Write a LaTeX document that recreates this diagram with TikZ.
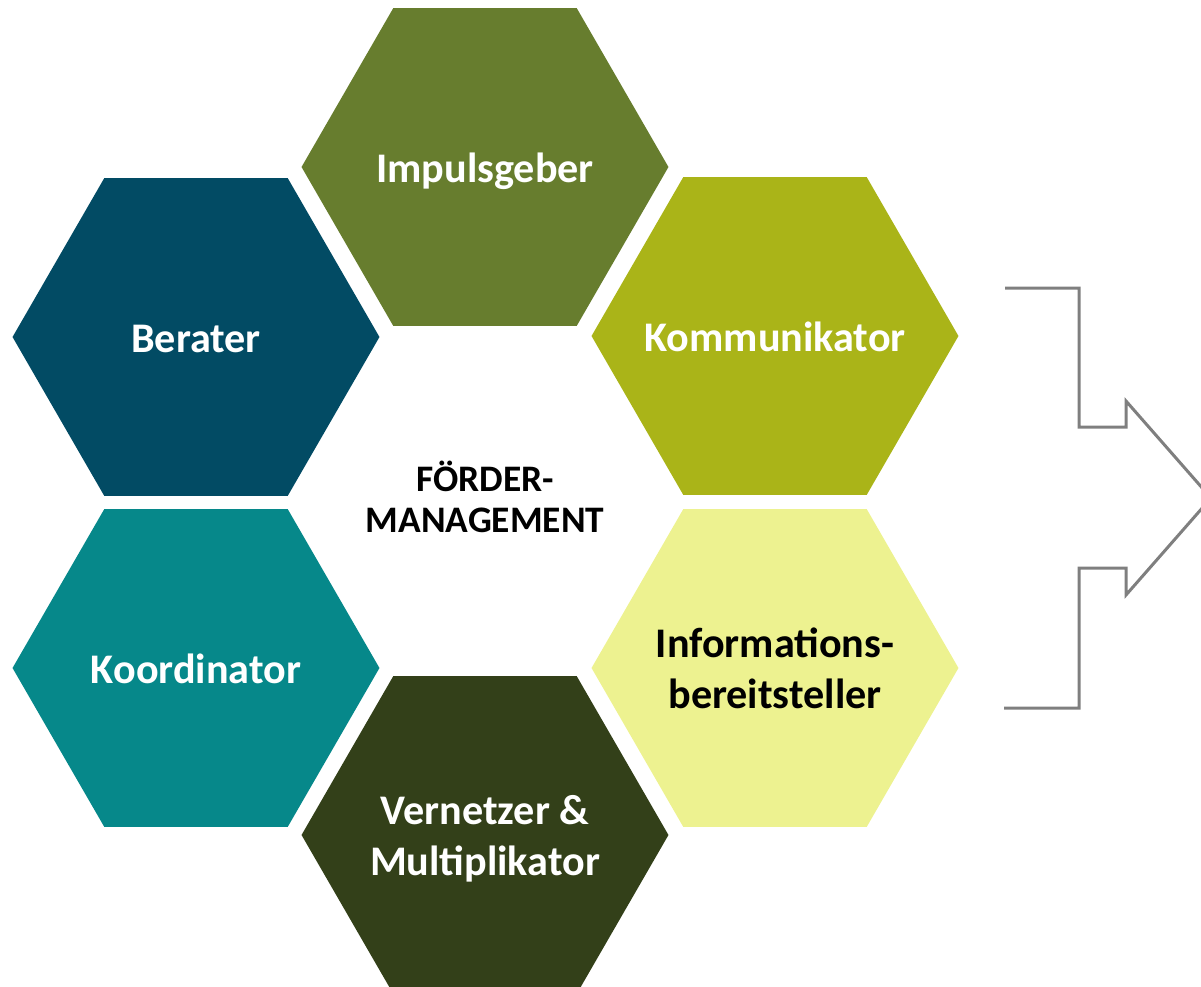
\documentclass[tikz,border=0pt]{standalone}
\usepackage{fontspec}
\setmainfont{Carlito}
\usetikzlibrary{shapes.geometric}

\definecolor{impuls}{HTML}{677D2E}
\definecolor{berat}{HTML}{024B64}
\definecolor{kommu}{HTML}{AAB418}
\definecolor{infor}{HTML}{EDF290}
\definecolor{koord}{HTML}{06888A}
\definecolor{vernetz}{HTML}{334019}
\definecolor{pfeilgrau}{HTML}{7F7F7F}

\begin{document}
\begin{tikzpicture}[x=0.02cm,y=-0.02cm,
    hexa/.style={regular polygon,regular polygon sides=6,minimum size=7.34cm,inner sep=0pt},
    rolle/.style={text=white,align=center,yshift=-0.1cm,font=\bfseries\fontsize{24}{29}\selectfont},
    pfeil/.style={draw=pfeilgrau,line width=0.06cm,line join=miter}]
    \useasboundingbox (0,0) rectangle (1201,987);
    % sechs Rollen
    \node[hexa,fill=impuls,label={[rolle]center:\strut Impulsgeber}]   (impuls)  at (485,167) {};
    \node[hexa,fill=berat,label={[rolle]center:\strut Berater}]        (berat)   at (196,337) {};
    \node[hexa,fill=kommu,label={[rolle]center:\strut Kommunikator}]   (kommu)   at (775,336) {};
    \node[hexa,fill=infor,label={[rolle,text=black]center:\strut Informations-\\\strut bereitsteller}] (infor) at (775,668) {};
    \node[hexa,fill=koord,label={[rolle]center:\strut Koordinator}]    (koord)   at (196,668) {};
    \node[hexa,fill=vernetz,label={[rolle]center:\strut Vernetzer \&\\\strut Multiplikator}] (vernetz) at (485,835) {};
    % Mitte
    \node[align=center,font=\bfseries\fontsize{21.3}{23}\selectfont] (mitte) at (485,497) {FÖRDER-\\MANAGEMENT};
    % Pfeil rechts
    \draw[pfeil] (1005,288) -- (1079,288) -- (1079,427) -- (1126,427) -- (1126,401)
      -- (1211,498) -- (1126,595) -- (1126,568) -- (1079,568) -- (1079,708) -- (1004,708);
\end{tikzpicture}
\end{document}
